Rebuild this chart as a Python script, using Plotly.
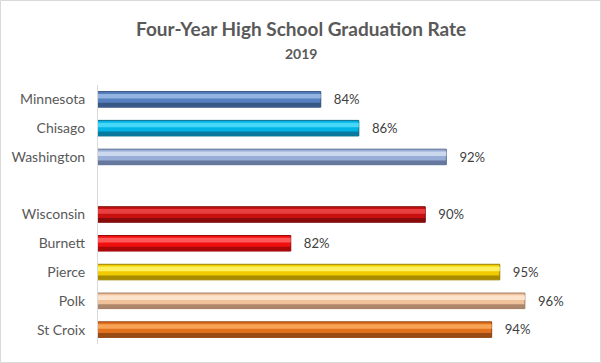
import plotly.graph_objects as go

# ---- data ----
regions = ["Minnesota", "Chisago", "Washington", " ", "Wisconsin", "Burnett", "Pierce", "Polk", "St Croix"]
rates = [83.75, 86.1, 91.5, None, 90.2, 81.9, 94.8, 96.35, 94.3]
mid_colors = ["#5580bf", "#00b4e6", "#98aed6", "#ffffff", "#c81010", "#f01010", "#f0cb00", "#f0c29c", "#e2711e"]
light_colors = ["#93b4e0", "#45d6f8", "#cbd8ee", "#ffffff", "#e84040", "#ff5a5a", "#fff060", "#fde2cc", "#f7a456"]
dark_colors = ["#34507a", "#0b6e8f", "#5d6f94", "#ffffff", "#7d0a0a", "#9a0808", "#9a8000", "#a27d62", "#8c4410"]
title_text = "Four-Year High School Graduation Rate"
subtitle_text = "2019"
x_range = [70, 100]

FONT = "Lato, 'Open Sans', sans-serif"
GRAY = "#595959"

ML, MR, MT, MB = 98, 17, 85, 19
W, H = 601, 363
pw, ph = W - ML - MR, H - MT - MB

fig = go.Figure()
# base bar
fig.add_trace(go.Bar(
    y=regions, x=rates, orientation="h",
    marker=dict(color=mid_colors, line=dict(color=dark_colors, width=1)),
    width=0.54, offset=-0.27,
    texttemplate="\u00a0\u00a0\u00a0%{x:.0f}%", textposition="outside", cliponaxis=False,
    textfont=dict(family=FONT, size=13.5, color="#404040"),
    hoverinfo="skip",
))
# light highlight band
fig.add_trace(go.Bar(
    y=regions, x=rates, orientation="h",
    marker=dict(color=light_colors, line=dict(width=0)),
    width=0.16, offset=-0.19, hoverinfo="skip",
))
# dark lower band
fig.add_trace(go.Bar(
    y=regions, x=rates, orientation="h",
    marker=dict(color=dark_colors, line=dict(width=0), opacity=0.85),
    width=0.14, offset=0.12, hoverinfo="skip",
))

fig.update_layout(
    width=W, height=H,
    margin=dict(l=ML, r=MR, t=MT, b=MB, autoexpand=False),
    paper_bgcolor="white", plot_bgcolor="white",
    barmode="overlay", showlegend=False,
    font=dict(family=FONT, color=GRAY),
    xaxis=dict(range=x_range, visible=False, showgrid=False, zeroline=False, fixedrange=True,
               automargin=False),
    yaxis=dict(autorange="reversed", showline=True, linecolor="#d9d9d9", linewidth=1,
               ticks="", showgrid=False, ticklabelstandoff=9, automargin=False,
               tickfont=dict(family=FONT, size=14, color=GRAY), fixedrange=True),
    annotations=[
        dict(text="<b>" + title_text + "</b>", x=0.5 - (ML - MR) / 2 / pw, xref="paper",
             y=1 + (MT - 28) / ph, yref="paper", xanchor="center", yanchor="middle",
             showarrow=False, font=dict(family=FONT, size=19, color=GRAY)),
        dict(text="<b>" + subtitle_text + "</b>", x=0.5 - (ML - MR) / 2 / pw, xref="paper",
             y=1 + (MT - 53) / ph, yref="paper", xanchor="center", yanchor="middle",
             showarrow=False, font=dict(family=FONT, size=14, color=GRAY)),
    ],
    shapes=[dict(type="rect", xref="paper", yref="paper",
                 x0=-(ML - 0.5) / pw, x1=1 + (MR - 0.5) / pw,
                 y0=-(MB - 0.5) / ph, y1=1 + (MT - 0.5) / ph,
                 line=dict(color="#d9d9d9", width=1), fillcolor="rgba(0,0,0,0)", layer="below")],
)

fig.write_html("out.html", config={"displayModeBar": False},
               post_script="document.body.style.margin='0';document.body.style.overflow='hidden';")
